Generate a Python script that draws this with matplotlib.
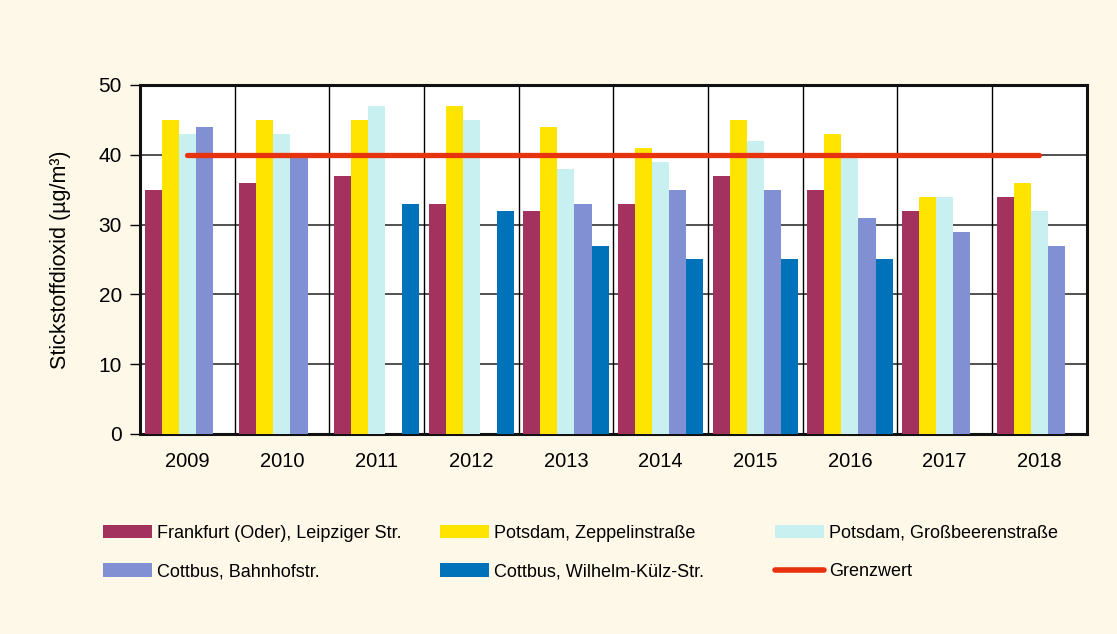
import numpy as np
import matplotlib
matplotlib.use("Agg")
import matplotlib.pyplot as plt
from matplotlib.patches import Patch
from matplotlib.lines import Line2D

plt.rcParams['font.family'] = ['Liberation Sans', 'DejaVu Sans']

years = ['2009', '2010', '2011', '2012', '2013', '2014', '2015', '2016', '2017', '2018']
frankfurt = [35, 36, 37, 33, 32, 33, 37, 35, 32, 34]
potsdam_zeppelin = [45, 45, 45, 47, 44, 41, 45, 43, 34, 36]
potsdam_grossbeeren = [43, 43, 47, 45, 38, 39, 42, 40, 34, 32]
cottbus_bahnhof = [44, 40, np.nan, np.nan, 33, 35, 35, 31, 29, 27]
cottbus_kuelz = [np.nan, np.nan, 33, 32, 27, 25, 25, 25, np.nan, np.nan]
grenzwert = 40

series = [
    ("Frankfurt (Oder), Leipziger Str.", frankfurt, '#A3325E'),
    ("Potsdam, Zeppelinstraße", potsdam_zeppelin, '#FFE400'),
    ("Potsdam, Großbeerenstraße", potsdam_grossbeeren, '#C8F0F0'),
    ("Cottbus, Bahnhofstr.", cottbus_bahnhof, '#8090D2'),
    ("Cottbus, Wilhelm-Külz-Str.", cottbus_kuelz, '#0072B9'),
]
red = '#E8330F'
bg = '#FEF8E8'

fig = plt.figure(figsize=(11.17, 6.34), dpi=100, facecolor=bg)
ax = fig.add_axes([0.1253, 0.3155, 0.8475, 0.5505])
ax.set_facecolor('white')

x = np.arange(len(years))
w = 0.18
for i, (name, vals, col) in enumerate(series):
    ax.bar(x + (i - 2) * w, vals, width=w, color=col, zorder=3, linewidth=0)

ax.plot([x[0], x[-1]], [grenzwert, grenzwert], color=red, lw=3.8,
        solid_capstyle='round', zorder=4)

ax.set_xlim(-0.5, len(years) - 0.5)
ax.set_ylim(0, 50)
ax.set_yticks(range(0, 51, 10))
ax.set_xticks(x)
ax.set_xticklabels(years, fontsize=14.5)
ax.tick_params(axis='y', labelsize=15, length=7, width=1, direction='out', pad=6)
ax.tick_params(axis='x', length=0, pad=13)
for yv in range(10, 50, 10):
    ax.axhline(yv, color='#333333', lw=1.2, zorder=1)
for b in np.arange(0.5, len(years) - 0.5, 1):
    ax.axvline(b, color='black', lw=1.0, zorder=1)
for s in ax.spines.values():
    s.set_linewidth(2.2)
    s.set_color('#111111')
ax.set_ylabel('Stickstoffdioxid (µg/m³)', fontsize=15.5, labelpad=20)

handles = [Patch(facecolor=c, edgecolor='none') for _, _, c in series]
handles.append(Line2D([0], [0], color=red, lw=4, solid_capstyle='round'))
labels = [s[0] for s in series] + ['Grenzwert']
columns = [[0, 3], [1, 4], [2, 5]]
col_x = [103, 440, 775]
for cx, idx in zip(col_x, columns):
    lg = fig.legend([handles[i] for i in idx], [labels[i] for i in idx],
                    loc='upper left', bbox_to_anchor=(cx / 1117 - 0.0148, 0.198),
                    frameon=False, fontsize=13, handlelength=2.75, handleheight=0.75,
                    handletextpad=0.25, labelspacing=1.2)

fig.savefig('out.png', dpi=100, facecolor=bg)
